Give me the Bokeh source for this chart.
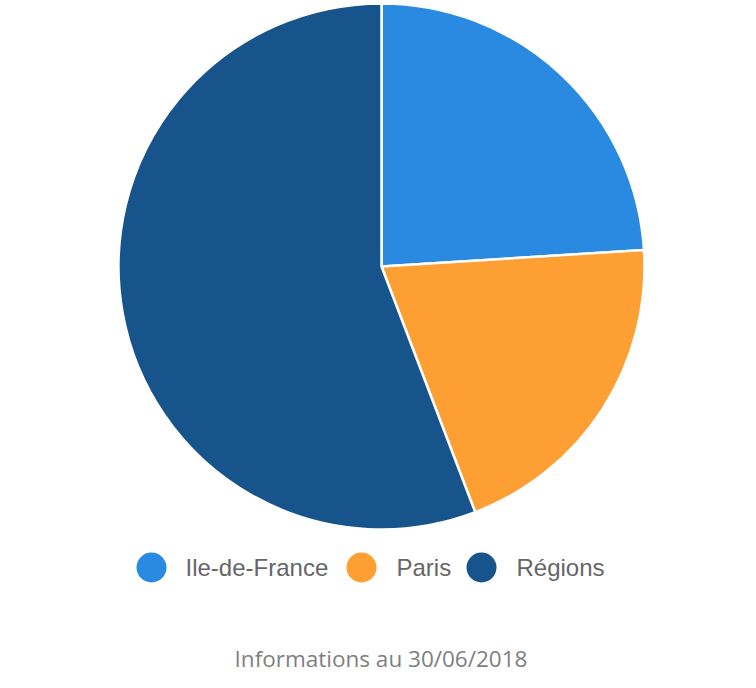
import numpy as np
from bokeh.plotting import figure
from bokeh.models import Range1d, ColumnDataSource
from bokeh.core.properties import value
from bokeh.embed import file_html
from bokeh.resources import INLINE

# Data
categories = ["Ile-de-France", "Paris", "Régions"]
shares = [24.0, 20.2, 55.8]
colors = ["#2a8ae2", "#fd9f32", "#17548c"]
caption = "Informations au 30/06/2018"

W, H = 740, 672
p = figure(width=W, height=H, output_backend="svg", toolbar_location=None,
           x_range=Range1d(0, W), y_range=Range1d(0, H), min_border=0,
           outline_line_color=None)
p.axis.visible = False
p.grid.visible = False
p.background_fill_color = "white"
p.border_fill_color = "white"

vals = np.array(shares, dtype=float)
frac = vals / vals.sum()
cum = np.concatenate([[0.0], np.cumsum(frac)])
start = np.pi / 2 - cum[:-1] * 2 * np.pi
end = np.pi / 2 - cum[1:] * 2 * np.pi

cx, cy, r = 381, 406, 263
src = ColumnDataSource(dict(start=start, end=end, color=colors, cat=categories))
p.wedge(x=cx, y=cy, radius=r, start_angle="start", end_angle="end",
        direction="clock", fill_color="color", line_color="white",
        line_width=2.5, source=src)

# Legend (manual layout)
leg_y = 105
circ_x = [151, 361, 481]
text_x = [185, 396, 516]
p.scatter(x=circ_x, y=[leg_y] * 3, size=30, marker="circle",
          fill_color=colors, line_color=None)
p.text(x=text_x, y=[leg_y] * 3, text=categories,
       text_font=value("Liberation Sans"), text_font_size="24px",
       text_color="#666666", text_baseline="middle", text_align="left")

# Caption
p.text(x=[380.5], y=[14.5], text=[caption], text_font=value("Open Sans"),
       text_font_size="22.5px", text_color="#808080",
       text_baseline="middle", text_align="center")

open("out.html", "w").write(file_html(p, INLINE))
